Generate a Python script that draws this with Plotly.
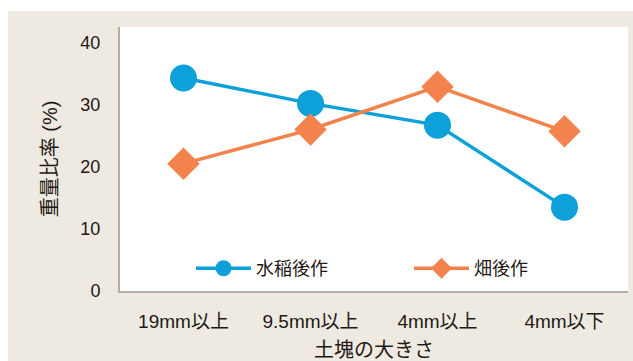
import plotly.graph_objects as go

categories = ["19mm以上", "9.5mm以上", "4mm以上", "4mm以下"]
paddy_after = [34.3, 30.2, 26.7, 13.5]
upland_after = [20.5, 26.0, 32.9, 25.7]
series_names = ["水稲後作", "畑後作"]
y_ticks = [0, 10, 20, 30, 40]

BLUE = "#0EA0D9"
ORANGE = "#F2834C"
BEIGE = "#EEEAE1"
FONT = "Liberation Sans, Noto Sans CJK JP"

fig = go.Figure()
fig.add_trace(go.Scatter(
    x=categories, y=paddy_after, name=series_names[0], mode="lines+markers",
    line=dict(color=BLUE, width=3.5), legend="legend",
    marker=dict(symbol="circle", size=27, color=BLUE),
))
fig.add_trace(go.Scatter(
    x=categories, y=upland_after, name=series_names[1], mode="lines+markers",
    line=dict(color=ORANGE, width=3.5), legend="legend2",
    marker=dict(symbol="diamond", size=25, color=ORANGE),
))

W, H = 633, 361
L, R, T, B = 120, 5, 27, 70
pw, ph = W - L - R, H - T - B

def px_x(p):
    return (p - L) / pw

def px_y(p):
    return (H - B - p) / ph

fig.add_shape(type="rect", xref="paper", yref="paper", layer="below",
              x0=px_x(8), x1=px_x(640), y0=px_y(372), y1=px_y(11),
              fillcolor=BEIGE, line=dict(width=0))
fig.add_shape(type="rect", xref="paper", yref="paper", layer="below",
              x0=0, x1=1, y0=0, y1=1,
              fillcolor="white", line=dict(width=0))

legend_style = dict(orientation="h", yanchor="middle", xanchor="left", y=0.085,
                    bgcolor="rgba(0,0,0,0)", font=dict(size=18), itemwidth=55)

fig.update_layout(
    width=W, height=H,
    margin=dict(l=L, r=R, t=T, b=B),
    paper_bgcolor="white", plot_bgcolor="rgba(0,0,0,0)",
    font=dict(family=FONT, color="#231815", size=18),
    showlegend=True,
    legend=dict(x=px_x(191), **legend_style),
    legend2=dict(x=px_x(409), **legend_style),
    xaxis=dict(range=[-0.5, 3.5], showgrid=False, zeroline=False, automargin=False,
               showline=True, linecolor="#B5ADA5", linewidth=2,
               ticks="", ticklabelstandoff=12, tickfont=dict(size=19),
               title=dict(text="土塊の大きさ", font=dict(size=20), standoff=15)),
    yaxis=dict(range=[0, 42.5], tickvals=y_ticks, showgrid=False, zeroline=False, automargin=False,
               showline=True, linecolor="#B5ADA5", linewidth=2,
               ticks="", ticklabelstandoff=14, tickfont=dict(size=18),
               title=dict(text="重量比率 (%)", font=dict(size=20), standoff=17)),
)

fig.write_html("out.html")
